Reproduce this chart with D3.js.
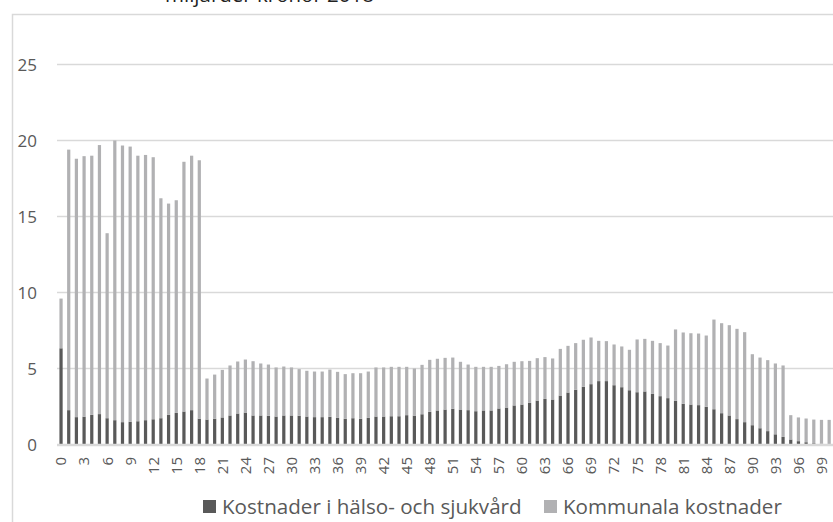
<!DOCTYPE html>
<html>
<head>
<meta charset="utf-8">
<script src="https://cdn.jsdelivr.net/npm/d3@7"></script>
<style>
  body { margin: 0; background: #fff; }
  svg { display: block; font-family: "Open Sans", Lato, sans-serif; }
</style>
</head>
<body>
<script>
var width = 833, height = 522;

// ages 0..100
var ages = d3.range(0, 101);

// Kostnader i hälso- och sjukvård (miljarder kr)
var halso = [6.33, 2.26, 1.80, 1.83, 1.95, 2.00, 1.73, 1.60, 1.47, 1.50,
  1.53, 1.60, 1.66, 1.73, 1.95, 2.08, 2.17, 2.26, 1.70, 1.64,
  1.69, 1.78, 1.91, 2.04, 2.10, 1.91, 1.91, 1.89, 1.84, 1.91,
  1.91, 1.89, 1.84, 1.80, 1.80, 1.82, 1.75, 1.69, 1.73, 1.69,
  1.75, 1.84, 1.84, 1.86, 1.86, 1.93, 1.90, 1.99, 2.15, 2.24,
  2.30, 2.35, 2.30, 2.26, 2.19, 2.24, 2.24, 2.37, 2.43, 2.57,
  2.63, 2.74, 2.89, 3.00, 2.96, 3.22, 3.42, 3.60, 3.80, 3.97,
  4.17, 4.17, 3.90, 3.77, 3.57, 3.44, 3.49, 3.33, 3.18, 3.05,
  2.87, 2.68, 2.63, 2.59, 2.48, 2.32, 2.06, 1.91, 1.67, 1.47,
  1.27, 1.07, 0.88, 0.67, 0.50, 0.33, 0.22, 0.15, 0.08, 0.05,
  0.03];

// Kommunala kostnader (miljarder kr)
var kommunala = [3.27, 17.14, 17.00, 17.14, 17.05, 17.70, 12.17, 18.40, 18.20, 18.10,
  17.47, 17.45, 17.24, 14.47, 13.90, 13.99, 16.43, 16.74, 17.00, 2.70,
  2.91, 3.13, 3.29, 3.42, 3.49, 3.57, 3.42, 3.37, 3.23, 3.22,
  3.16, 3.07, 3.01, 3.00, 3.00, 3.11, 3.03, 2.94, 2.96, 3.00,
  3.05, 3.23, 3.23, 3.25, 3.25, 3.18, 3.10, 3.25, 3.42, 3.40,
  3.40, 3.37, 3.14, 3.00, 2.92, 2.87, 2.87, 2.80, 2.85, 2.87,
  2.85, 2.76, 2.79, 2.75, 2.70, 3.07, 3.07, 3.07, 3.09, 3.07,
  2.65, 2.63, 2.68, 2.68, 2.66, 3.47, 3.46, 3.49, 3.49, 3.46,
  4.70, 4.69, 4.69, 4.71, 4.69, 5.90, 5.92, 5.94, 5.94, 5.92,
  4.67, 4.65, 4.67, 4.66, 4.70, 1.60, 1.56, 1.56, 1.56, 1.57,
  1.59];

var seriesNames = ["Kostnader i hälso- och sjukvård", "Kommunala kostnader"];
var colors = ["#595959", "#b1b1b3"];
var yTicks = [0, 5, 10, 15, 20, 25];
var title = "miljarder kronor 2018";

var svg = d3.select("body").append("svg")
  .attr("width", width)
  .attr("height", height);

// outer chart frame (runs past the right and bottom edge)
svg.append("rect")
  .attr("x", 12.5).attr("y", 14.5)
  .attr("width", 840).attr("height", 530)
  .attr("fill", "none")
  .attr("stroke", "#d9d9d9")
  .attr("stroke-width", 1.5);

// title, only its lower edge shows in the original
svg.append("text")
  .attr("x", 165).attr("y", 1.5)
  .attr("font-size", 20.5)
  .attr("fill", "#222")
  .text(title);

var x = d3.scaleBand()
  .domain(ages)
  .range([57.2, 833])
  .paddingInner(0.58)
  .paddingOuter(0.29);

var y = d3.scaleLinear()
  .domain([0, 25])
  .range([444.5, 64.5]);

// gridlines
svg.append("g")
  .selectAll("line")
  .data(yTicks.slice(1))
  .enter().append("line")
  .attr("x1", 57).attr("x2", 833)
  .attr("y1", function(d) { return y(d); })
  .attr("y2", function(d) { return y(d); })
  .attr("stroke", "#d9d9d9")
  .attr("stroke-width", 1.3);

// y labels
svg.append("g")
  .selectAll("text")
  .data(yTicks)
  .enter().append("text")
  .attr("x", 37)
  .attr("y", function(d) { return y(d); })
  .attr("dy", "0.36em")
  .attr("text-anchor", "end")
  .attr("font-size", 17)
  .attr("fill", "#595959")
  .text(function(d) { return d; });

// stacked bars
var rows = ages.map(function(a, i) {
  return { age: a, halso: halso[i], kommunala: kommunala[i] };
});
var stack = d3.stack().keys(["halso", "kommunala"]);
var layers = stack(rows);

svg.append("g")
  .selectAll("g")
  .data(layers)
  .enter().append("g")
  .attr("fill", function(d, i) { return colors[i]; })
  .selectAll("rect")
  .data(function(d) { return d; })
  .enter().append("rect")
  .attr("x", function(d) { return x(d.data.age); })
  .attr("width", x.bandwidth())
  .attr("y", function(d) { return y(d[1]); })
  .attr("height", function(d) { return y(d[0]) - y(d[1]); });

// baseline
svg.append("line")
  .attr("x1", 57).attr("x2", 833)
  .attr("y1", 445).attr("y2", 445)
  .attr("stroke", "#d9d9d9")
  .attr("stroke-width", 2.5);

// x labels, every third age
svg.append("g")
  .selectAll("text")
  .data(ages.filter(function(a) { return a % 3 == 0; }))
  .enter().append("text")
  .attr("transform", function(d) {
    return "translate(" + (x(d) + x.bandwidth() / 2) + ",457) rotate(-90)";
  })
  .attr("dy", "0.36em")
  .attr("text-anchor", "end")
  .attr("font-size", 15)
  .attr("fill", "#595959")
  .text(function(d) { return d; });

// legend
var legendX = [203, 544];
var legend = svg.append("g")
  .selectAll("g")
  .data(seriesNames)
  .enter().append("g")
  .attr("transform", function(d, i) { return "translate(" + legendX[i] + ",500)"; });

legend.append("rect")
  .attr("width", 13).attr("height", 13)
  .attr("fill", function(d, i) { return colors[i]; });

legend.append("text")
  .attr("x", 19).attr("y", 13.5)
  .attr("font-size", 20.6)
  .attr("fill", "#595959")
  .text(function(d) { return d; });
</script>
</body>
</html>
